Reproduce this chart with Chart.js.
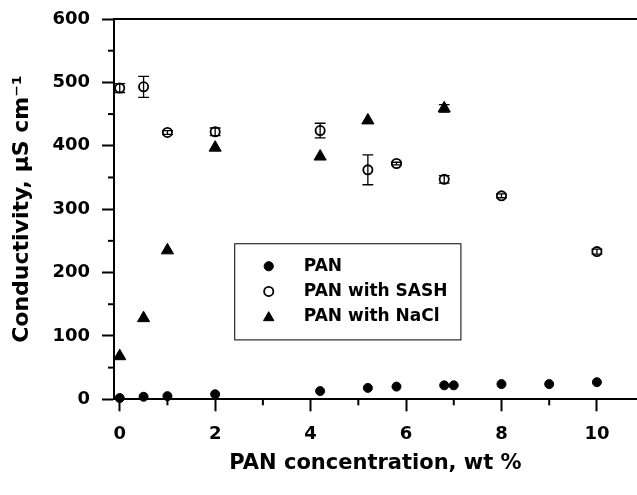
<!DOCTYPE html>
<html><head><meta charset="utf-8">
<script src="https://cdn.jsdelivr.net/npm/chart.js@4/dist/chart.umd.min.js"></script>
<style>html,body{margin:0;padding:0;background:#fff}#wrap{width:637px;height:495px}</style>
</head><body><div id="wrap"><canvas id="c" width="637" height="495"></canvas></div>
<script>
// ---- data ----
const panX = [0, 0.5, 1, 2, 4.2, 5.2, 5.8, 6.8, 7, 8, 9, 10];
const panY = [2, 4, 5, 8, 13, 18, 20, 22, 22, 24, 24, 27];
const sashX = [0, 0.5, 1, 2, 4.2, 5.2, 5.8, 6.8, 8, 10];
const sashY = [491, 493, 421, 422, 424, 362, 372, 347, 321, 233];
const sashErr = [7, 16.5, 3, 6, 11.5, 23.5, 2, 6, 3, 4];
const naclX = [0, 0.5, 1, 2, 4.2, 5.2, 6.8];
const naclY = [68, 128, 235, 397, 383, 440, 459];
const naclErr = [0, 0, 0, 0, 0, 0, 6];
const xMinorTicks = [1, 3, 5, 7, 9];
const yMinorTicks = [50, 150, 250, 350, 450, 550];
const seriesNames = ['PAN', 'PAN with SASH', 'PAN with NaCl'];
const xTitle = 'PAN concentration, wt %';
const yTitle = 'Conductivity, \u00B5S cm\u207B\u00B9';

const FONT = '"DejaVu Sans", "Liberation Sans", Arial, sans-serif';
const pts = (xs, ys) => xs.map((x, i) => ({x: x, y: ys[i]}));

const styles = [
  {pointStyle: 'circle', radius: 4.5, bg: '#000', border: '#000', bw: 1},
  {pointStyle: 'circle', radius: 4.6, bg: 'rgba(0,0,0,0)', border: '#000', bw: 1.8},
  {pointStyle: 'triangle', radius: 7, bg: '#000', border: '#000', bw: 1}
];

const extrasPlugin = {
  id: 'extras',
  afterDatasetsDraw(chart) {
    const ctx = chart.ctx, xs = chart.scales.x, ys = chart.scales.y;
    ctx.save();
    ctx.strokeStyle = '#000';
    ctx.lineWidth = 1.3;
    const drawErr = (X, Y, E) => {
      X.forEach((xv, i) => {
        if (!E[i]) return;
        const px = xs.getPixelForValue(xv);
        const p1 = ys.getPixelForValue(Y[i] + E[i]);
        const p2 = ys.getPixelForValue(Y[i] - E[i]);
        ctx.beginPath();
        ctx.moveTo(px, p1); ctx.lineTo(px, p2);
        ctx.moveTo(px - 5.4, p1); ctx.lineTo(px + 5.4, p1);
        ctx.moveTo(px - 5.4, p2); ctx.lineTo(px + 5.4, p2);
        ctx.stroke();
      });
    };
    drawErr(sashX, sashY, sashErr);
    drawErr(naclX, naclY, naclErr);
    ctx.restore();
  },
  afterDraw(chart) {
    const ctx = chart.ctx, xs = chart.scales.x, ys = chart.scales.y, ca = chart.chartArea;
    ctx.save();
    ctx.strokeStyle = '#000';
    ctx.lineWidth = 2;
    // top frame line
    ctx.beginPath();
    ctx.moveTo(ca.left, ca.top); ctx.lineTo(chart.width, ca.top);
    ctx.stroke();
    // minor ticks
    xMinorTicks.forEach(v => {
      const px = xs.getPixelForValue(v);
      ctx.beginPath(); ctx.moveTo(px, ca.bottom); ctx.lineTo(px, ca.bottom + 6); ctx.stroke();
    });
    yMinorTicks.forEach(v => {
      const py = ys.getPixelForValue(v);
      ctx.beginPath(); ctx.moveTo(ca.left, py); ctx.lineTo(ca.left - 6, py); ctx.stroke();
    });
    // legend box
    const left = xs.getPixelForValue(2.41), right = xs.getPixelForValue(7.15);
    const top = ys.getPixelForValue(245.4), bottom = ys.getPixelForValue(93.7);
    ctx.lineWidth = 1;
    ctx.strokeStyle = '#000';
    ctx.strokeRect(left, top, right - left, bottom - top);
    ctx.font = 'bold 17px ' + FONT;
    ctx.textBaseline = 'middle';
    ctx.textAlign = 'left';
    seriesNames.forEach((name, i) => {
      const cy = top + 22.5 + i * 25.2;
      const st = styles[i];
      ctx.fillStyle = st.bg; ctx.strokeStyle = st.border; ctx.lineWidth = st.bw;
      Chart.helpers.drawPoint(ctx, {pointStyle: st.pointStyle, radius: i === 2 ? 6 : 4.6, rotation: 0, borderWidth: st.bw}, left + 34, cy + (i === 2 ? 1 : 0));
      ctx.fillStyle = '#000';
      ctx.fillText(name, left + 69, cy);
    });
    ctx.restore();
  }
};

const mkDs = (label, data, i) => ({
  label: label, data: data,
  pointStyle: styles[i].pointStyle, pointRadius: styles[i].radius,
  pointBackgroundColor: styles[i].bg, pointBorderColor: styles[i].border,
  pointBorderWidth: styles[i].bw, showLine: false, clip: false
});

new Chart(document.getElementById('c'), {
  type: 'scatter',
  data: {
    datasets: [
      mkDs(seriesNames[0], pts(panX, panY), 0),
      mkDs(seriesNames[1], pts(sashX, sashY), 1),
      mkDs(seriesNames[2], pts(naclX, naclY), 2)
    ]
  },
  options: {
    responsive: false, animation: false, devicePixelRatio: 1,
    layout: {autoPadding: false, padding: {top: 19, right: 0, bottom: 0, left: 0}},
    plugins: {legend: {display: false}, tooltip: {enabled: false}},
    scales: {
      x: {
        type: 'linear', min: -0.12, max: 10.84,
        afterFit(s) { s.height = 95.7; s.paddingLeft = 0; s.paddingRight = 0; },
        ticks: {stepSize: 2, includeBounds: false, color: '#000', padding: 12,
                font: {family: FONT, size: 18, weight: 'bold'}, maxRotation: 0},
        grid: {drawOnChartArea: false, drawTicks: true, tickLength: 12, tickWidth: 2, tickColor: '#000'},
        border: {color: '#000', width: 2},
        title: {display: true, text: xTitle, color: '#000',
                font: {family: FONT, size: 21, weight: 'bold'}, padding: {top: 0, bottom: 19}}
      },
      y: {
        type: 'linear', min: 0, max: 600,
        afterFit(s) { s.width = 114; s.paddingTop = 0; s.paddingBottom = 0; },
        ticks: {stepSize: 100, color: '#000', padding: 12,
                font: {family: FONT, size: 18, weight: 'bold'}},
        grid: {drawOnChartArea: false, drawTicks: true, tickLength: 12, tickWidth: 2, tickColor: '#000'},
        border: {color: '#000', width: 2},
        title: {display: true, text: yTitle, color: '#000', align: 'center',
                font: {family: FONT, size: 22, weight: 'bold'}, padding: {top: 9, bottom: 0}}
      }
    }
  },
  plugins: [extrasPlugin]
});
</script>
</body></html>
